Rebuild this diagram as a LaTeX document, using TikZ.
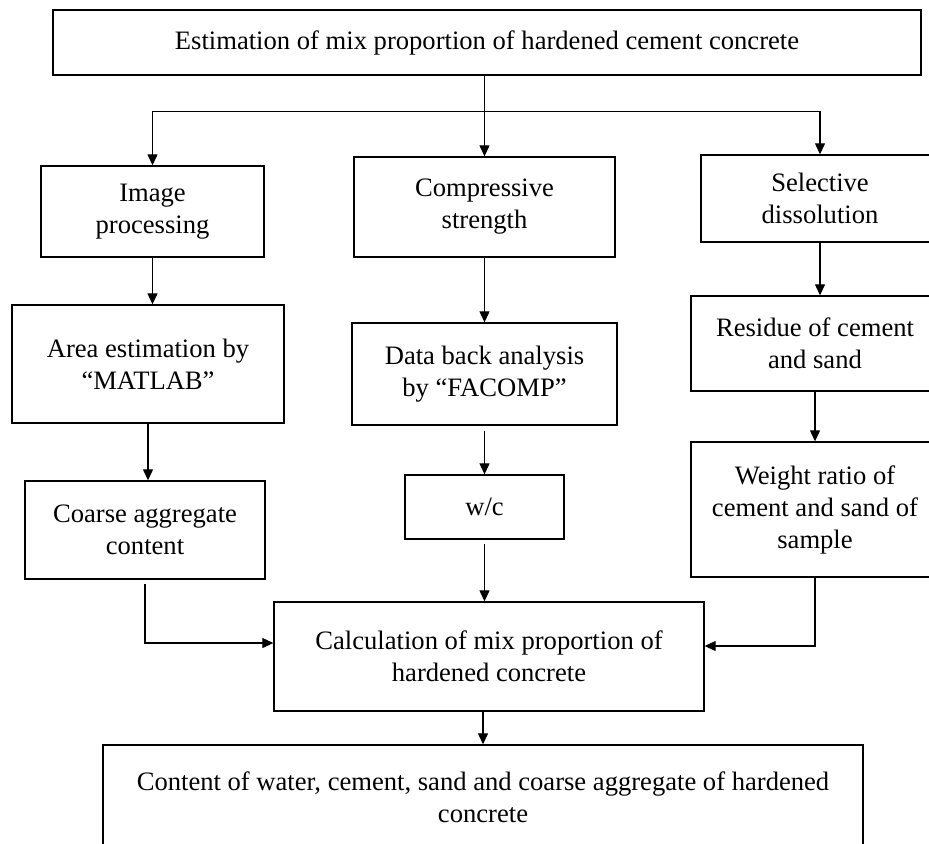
\documentclass[tikz,border=0pt]{standalone}
\usepackage{fontspec}
\setmainfont{Liberation Serif}
\usetikzlibrary{arrows.meta, calc, positioning}
\tikzset{
    blk/.style={draw, line width=0.7pt, align=center, inner sep=0pt,
        font=\fontsize{13.3}{16}\selectfont},
    flow/.style={-{Triangle[length=5.5pt, width=5pt]}, line width=0.6pt},
}

\begin{document}
\begin{tikzpicture}[x=0.5pt, y=-0.5pt]
    \useasboundingbox (0,0) rectangle (929,843);
    \clip (0,0) rectangle (929,843);
    % top
    \node[blk, minimum width=434pt, minimum height=32.5pt] (e0) at (487,42.5) {Estimation of mix proportion of hardened cement concrete};
    % left column
    \node[blk, minimum width=111.5pt, minimum height=45.5pt] (l1) at (152.5,211.5) {Image\\processing};
    \node[blk, minimum width=136pt, minimum height=59pt] (l2) at (148,364) {Area estimation by\\“MATLAB”};
    \node[blk, minimum width=120pt, minimum height=49pt] (l3) at (145,530) {Coarse aggregate\\content};
    % middle column
    \node[blk, minimum width=130.5pt, minimum height=50pt] (m1) at (484.5,207) {Compressive\\strength};
    \node[blk, minimum width=132.5pt, minimum height=51pt] (m2) at (484.5,374) {Data back analysis\\by “FACOMP”};
    \node[blk, minimum width=79.5pt, minimum height=32pt] (m3) at (484.5,507) {w/c};
    % right column
    \node[blk, minimum width=119pt, minimum height=43.5pt] (r1) at (820,198.5) {Selective\\dissolution};
    \node[blk, minimum width=124pt, minimum height=47.5pt] (r2) at (815,343.5) {Residue of cement\\and sand};
    \node[blk, minimum width=124pt, minimum height=67.5pt] (r3) at (815,509.5) {Weight ratio of\\cement and sand of\\sample};
    % bottom
    \node[blk, minimum width=215pt, minimum height=54.5pt] (c1) at (489,656.5) {Calculation of mix proportion of\\hardened concrete};
    \node[blk, minimum width=380pt, minimum height=52pt] (c2) at (483,797) {Content of water, cement, sand and coarse aggregate of hardened\\concrete};

    \coordinate (sp) at ($(m1.north)+(0,-45)$);
    \draw[flow] (e0.south -| m1.north) -- (m1.north);
    \draw[flow] (sp) -| (l1.north);
    \draw[flow] (sp) -| (r1.north);

    \draw[flow] (l1.south) -- (l1.south |- l2.north);
    \draw[flow] (l2.south) -- (l2.south |- l3.north);
    \draw[flow] (m1.south) -- (m2.north);
    \draw[flow, shorten <=2.5pt] (m2.south) -- (m3.north);
    \draw[flow] (r1.south) -- (r1.south |- r2.north);
    \draw[flow] (r2.south) -- (r2.south |- r3.north);

    \draw[flow, shorten <=2pt] (l3.south) |- ($(c1.west)+(0,-13.5)$);
    \draw[flow, shorten <=2pt] (m3.south) -- (m3.south |- c1.north);
    \draw[flow] (r3.south) |- ($(c1.east)+(0,-10.5)$);
    \draw[flow] (c2.north |- c1.south) -- (c2.north);
\end{tikzpicture}
\end{document}
